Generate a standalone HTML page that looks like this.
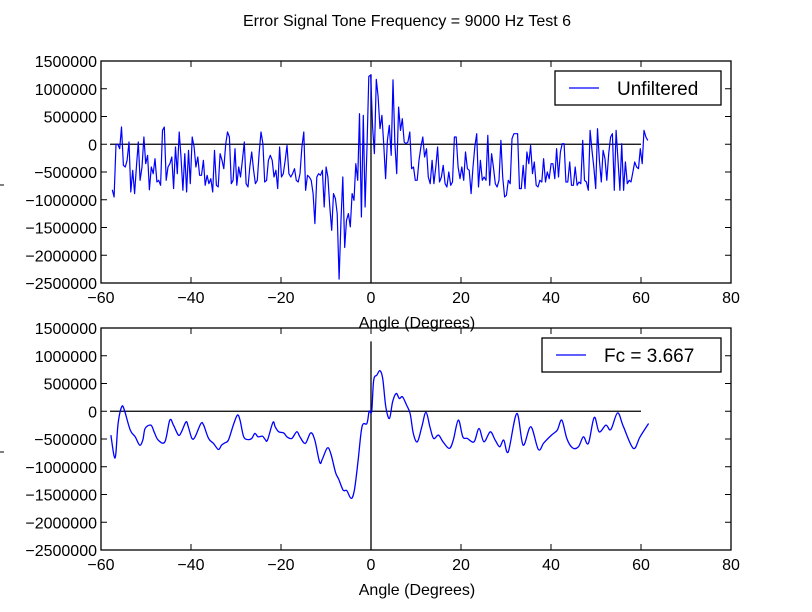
<!DOCTYPE html>
<html><head><meta charset="utf-8"><style>
body{margin:0;background:#fff;}
svg{display:block;font-family:"Liberation Sans",sans-serif;}
</style></head><body>
<svg id="chart" width="812" height="612">
<rect width="812" height="612" fill="#fff"/>
<text x="407" y="26" font-size="16" text-anchor="middle">Error Signal Tone Frequency = 9000 Hz Test 6</text>
<g id="top"></g>
<g id="bot"></g>
</svg>
<script>
const xTicks=[-60,-40,-20,0,20,40,60,80];
const yTicks=[1500000,1000000,500000,0,-500000,-1000000,-1500000,-2000000,-2500000];
const unfiltered=[-0.82,-0.95,0,0,-0.08,0.31,-0.38,-0.41,-0.29,0.04,-0.86,-0.47,-0.89,-0.41,0.04,-0.65,-0.41,0.13,-0.35,-0.2,-0.82,-0.41,-0.53,-0.26,-0.68,-0.65,-0.74,0.25,0.31,-0.65,-0.41,-0.35,-0.23,-0.8,-0.05,-0.53,0.22,-0.23,-0.83,-0.17,-0.86,-0.11,-0.71,0.13,-0.05,-0.41,-0.23,-0.56,-0.56,-0.29,-0.74,-0.56,-0.71,-0.62,-0.86,-0.11,-0.74,-0.77,-0.17,-0.29,-0.44,0,0.22,0.13,-0.71,-0.65,
-0.08,-0.74,-0.41,-0.59,-0.29,0.04,-0.71,-0.77,-0.41,-0.14,-0.47,-0.71,-0.65,-0.17,0.22,0.01,-0.68,-0.65,-0.29,-0.2,-0.29,-0.59,-0.47,-0.8,-0.05,-0.59,-0.53,-0.29,-0.02,-0.53,-0.59,-0.53,-0.44,-0.65,-0.68,-0.53,-0.05,0.22,-0.83,-0.56,-0.59,-0.65,-0.89,-1.43,-0.59,-0.53,-0.56,-0.47,-1.13,-0.41,-0.59,-1.13,-1.55,-0.89,-0.98,-1.25,-2.43,-1.37,-0.59,-1.86,-1.37,-1.25,-1.49,-0.89,-1.01,-0.35,-0.65,0.55,-1.31,0.52,-1.13,-0.05,1.22,1.25,0.31,-0.17,
1.17,0.86,0.28,0.52,0.01,-0.62,0.07,0.34,-0.2,1.16,0.01,-0.53,0.67,0.25,0.46,0.04,0.01,0.04,0.22,-0.44,-0.41,-0.65,-0.65,-0.29,-0.05,0.13,-0.23,-0.08,-0.59,-0.71,-0.29,-0.71,-0.41,-0.05,-0.68,-0.59,-0.38,-0.71,-0.77,-0.5,-0.74,-0.68,0.13,0.13,-0.41,-0.62,-0.41,-0.65,-0.14,-0.44,-0.47,-0.89,-0.41,-0.05,0.19,-0.77,-0.29,-0.65,-0.59,-0.65,0.16,-0.74,-0.17,-0.41,-0.71,-0.77,-0.65,0.07,-0.59,-0.95,-0.92,-0.65,-0.71,0.1,
0.19,0.19,0.19,-0.8,-0.8,-0.38,-0.8,-0.14,-0.35,-0.02,-0.53,-0.32,-0.74,-0.77,-0.65,-0.68,-0.26,-0.68,-0.5,-0.62,-0.35,-0.35,-0.62,-0.08,-0.59,-0.14,0.01,0.01,-0.68,-0.68,-0.32,-0.74,-0.74,-0.41,-0.74,-0.68,-0.71,0.07,-0.65,-0.68,-0.83,0.25,-0.11,-0.41,-0.8,0.28,-0.29,-0.68,-0.11,-0.26,-0.65,-0.17,0.13,0.19,-0.83,0.25,-0.29,-0.83,0.01,-0.83,-0.32,-0.71,-0.65,-0.68,-0.5,-0.32,-0.41,-0.44,-0.08,-0.35,0.25,0.13,0.07];
const unfStart=-57.5, unfEnd=61.5;
const filtAngles=[-57.8,-57.1,-56.7,-56.2,-55.4,-54.8,-53.5,-52.4,-51.4,-50.7,-50.2,-48.9,-48.2,-47.3,-45.8,-44.7,-43.9,-42.8,-42.1,-41.1,-40.6,-39.8,-39.1,-37.8,-37.2,-36.1,-35,-33.9,-33.2,-32.5,-31.7,-30.6,-29.7,-29.1,-28.3,-27.3,-26.5,-25.8,-25.1,-24.1,-23.5,-23,-21.8,-21.3,-20.5,-19.4,-18.7,-17.6,-16.5,-15.8,-14.6,-13.4,-12.5,-11.4,-10.8,-9.7,-8.9,-7.9,-7.2,-6.2,-5.4,-4.4,-3.7,-2.9,-2,-0.9,-0.4,0.15,0.6,1.3,2,2.6,3.3,4.1,4.8,5.6,6.3,7,7.9,8.7,9.4,10.3,11.3,12.2,13.1,13.9,15,16,17.4,18.3,19.4,20.4,21.4,22.9,24,25.1,26.5,27.6,28.6,29.5,30.5,32.4,33.8,35.5,37.2,38.4,40.1,41.4,42.4,43.5,44.8,46.1,47.2,48.3,49.6,50.7,52.2,53.3,54.8,56.1,58.3,59.8,61.7];
const filtered=[-0.43,-0.8,-0.77,-0.22,0.08,0.02,-0.34,-0.46,-0.61,-0.52,-0.31,-0.25,-0.37,-0.52,-0.55,-0.16,-0.25,-0.43,-0.37,-0.19,-0.28,-0.49,-0.46,-0.22,-0.25,-0.49,-0.58,-0.69,-0.61,-0.57,-0.52,-0.25,-0.07,-0.16,-0.46,-0.51,-0.49,-0.4,-0.46,-0.45,-0.51,-0.52,-0.2,-0.28,-0.37,-0.39,-0.46,-0.49,-0.37,-0.46,-0.58,-0.39,-0.52,-0.92,-0.86,-0.66,-0.77,-1.1,-1.22,-1.42,-1.43,-1.57,-1.42,-0.92,-0.28,-0.22,0,0,0.56,0.65,0.73,0.59,0.08,-0.13,0.17,0.32,0.23,0.26,0.11,-0.04,-0.4,-0.55,-0.28,-0.02,-0.28,-0.49,-0.43,-0.55,-0.67,-0.52,-0.16,-0.46,-0.49,-0.55,-0.31,-0.55,-0.37,-0.52,-0.64,-0.52,-0.73,-0.04,-0.61,-0.28,-0.69,-0.57,-0.43,-0.34,-0.16,-0.49,-0.66,-0.64,-0.46,-0.58,-0.11,-0.37,-0.25,-0.33,-0.03,-0.28,-0.67,-0.46,-0.22];
const NS="http://www.w3.org/2000/svg";
function mk(p,t,a){const e=document.createElementNS(NS,t);for(const k in a)e.setAttribute(k,a[k]);p.appendChild(e);return e;}
function smoothPath(P){
  let d='M'+P[0][0].toFixed(1)+','+P[0][1].toFixed(1);
  for(let i=0;i<P.length-1;i++){
    const p0=P[Math.max(0,i-1)],p1=P[i],p2=P[i+1],p3=P[Math.min(P.length-1,i+2)];
    const c1=[p1[0]+(p2[0]-p0[0])/6,p1[1]+(p2[1]-p0[1])/6];
    const c2=[p2[0]-(p3[0]-p1[0])/6,p2[1]-(p3[1]-p1[1])/6];
    d+=' C'+c1.map(v=>v.toFixed(1))+' '+c2.map(v=>v.toFixed(1))+' '+p2.map(v=>v.toFixed(1));
  }
  return d;
}
function panel(g,top,legendLabel,legX,xs,ys,name,smooth){
  const L=101,R=731,T=top,B=top+222;
  const sx=v=>L+(v+60)/140*(R-L);
  const sy=v=>T+(1500000-v)/4000000*(B-T);
  const h=mk(g,'line',{x1:sx(-58),x2:sx(60),y1:sy(0),y2:sy(0),stroke:'#000','stroke-width':1.3});
  
  
  const v=mk(g,'line',{x1:sx(0),x2:sx(0),y1:B,y2:sy(1260000),stroke:'#000','stroke-width':1.3});
  
  
  const P=xs.map((x,i)=>[sx(x),sy(ys[i]*1e6)]);
  let pl;
  if(smooth){pl=mk(g,'path',{d:smoothPath(P),fill:'none',stroke:'#0000ff','stroke-width':1.3});}
  else{pl=mk(g,'polyline',{points:P.map(p=>p[0].toFixed(1)+','+p[1].toFixed(1)).join(' '),fill:'none',stroke:'#0000ff','stroke-width':1.2,'stroke-linejoin':'round'});}
  
  
  const fr=mk(g,'rect',{x:L,y:T,width:R-L,height:B-T,fill:'none',stroke:'#000','stroke-width':1.3});
  
  
  xTicks.forEach(t=>{const x=sx(t);
    mk(g,'line',{x1:x,x2:x,y1:B,y2:B-6,stroke:'#000'});mk(g,'line',{x1:x,x2:x,y1:T,y2:T+6,stroke:'#000'});
    const tx=mk(g,'text',{x:x,y:B+20,'font-size':16,'text-anchor':'middle'});tx.textContent=t<0?'\u2212'+(-t):t;
    
    });
  yTicks.forEach(t=>{const y=sy(t);
    mk(g,'line',{x1:L,x2:L+6,y1:y,y2:y,stroke:'#000'});mk(g,'line',{x1:R,x2:R-6,y1:y,y2:y,stroke:'#000'});
    const tx=mk(g,'text',{x:L-4,y:y+6,'font-size':16,'text-anchor':'end'});tx.textContent=t<0?'\u2212'+(-t):t;
    
    });
  const xl=mk(g,'text',{x:417,y:B+45,'font-size':16,'text-anchor':'middle'});xl.textContent='Angle (Degrees)';
  
  
  mk(g,'line',{x1:0,x2:4,y1:T+124,y2:T+124,stroke:'#000'});
  const lg=mk(g,'g',{});
  
  
  mk(lg,'rect',{x:legX,y:T+10,width:721-legX,height:34,fill:'#fff',stroke:'#000','stroke-width':1.3});
  mk(lg,'line',{x1:legX+14,x2:legX+44,y1:T+27,y2:T+27,stroke:'#0000ff','stroke-width':1.2});
  const lt=mk(lg,'text',{x:legX+62,y:T+34,'font-size':19});lt.textContent=legendLabel;
}
const uAng=unfiltered.map((_,i)=>unfStart+i*(unfEnd-unfStart)/(unfiltered.length-1));
panel(document.getElementById('top'),61,'Unfiltered',555,uAng,unfiltered,'unfiltered',false);
panel(document.getElementById('bot'),328,'Fc = 3.667',542,filtAngles,filtered,'filtered',true);
</script>
</body></html>
